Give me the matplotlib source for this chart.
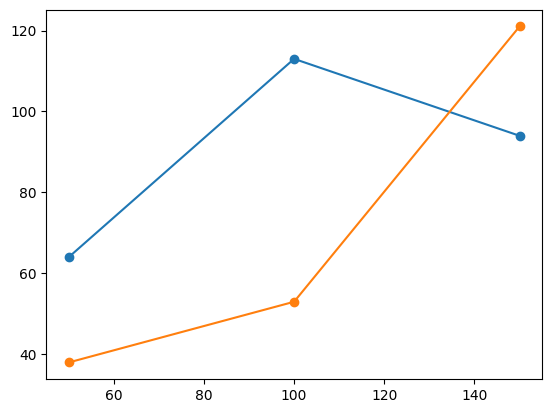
import matplotlib
matplotlib.use('Agg')
from matplotlib import pyplot as plt

x = [50, 100, 150]
series_a = [64, 113, 94]
series_b = [38, 53, 121]

fig, ax = plt.subplots()
ax.plot(x, series_a, marker='o')
ax.plot(x, series_b, marker='o')
plt.savefig('out.png', bbox_inches='tight')
